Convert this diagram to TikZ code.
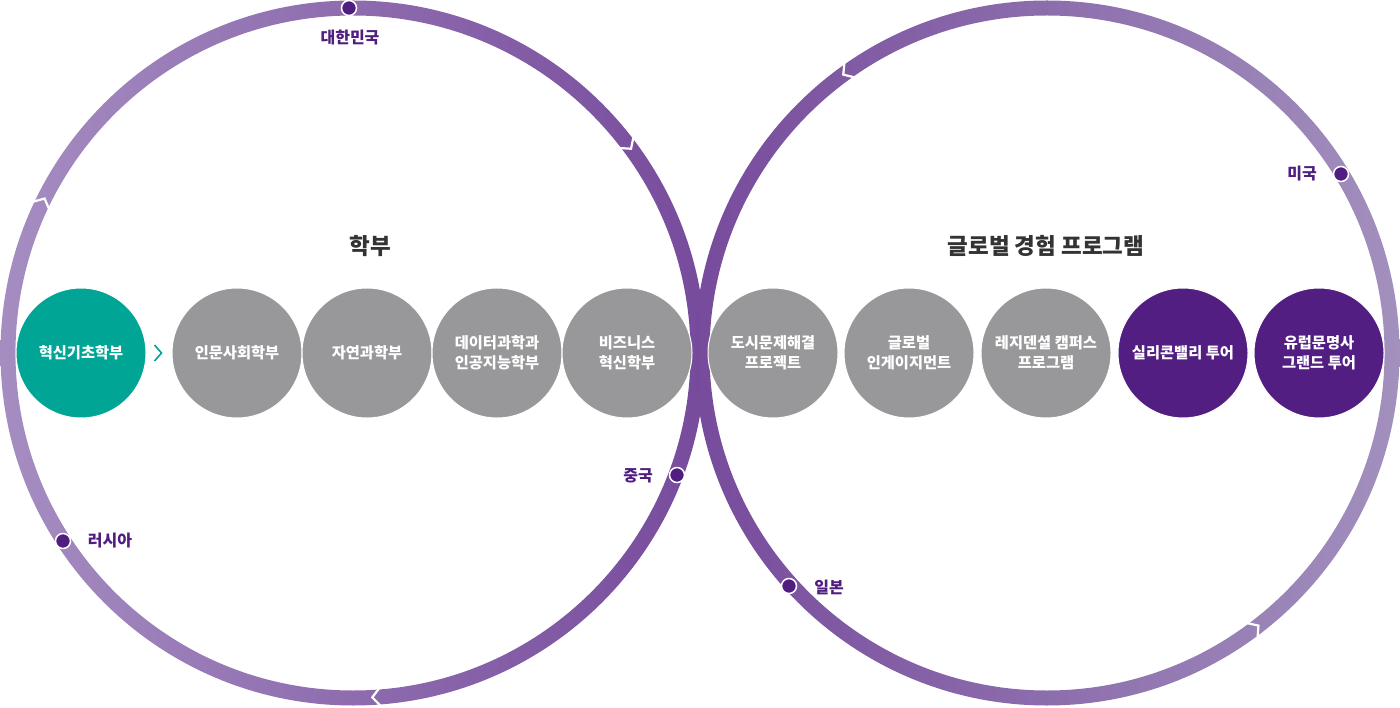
\documentclass[tikz,border=0pt]{standalone}
\usepackage{fontspec}
\setmainfont{Noto Sans CJK KR}
\usetikzlibrary{calc}
\definecolor{ringlight}{HTML}{A58DC1}
\definecolor{ringdark}{HTML}{774B9C}
\definecolor{ringlightR}{HTML}{A290BD}
\definecolor{dotpurple}{HTML}{4F1E80}
\definecolor{tealc}{HTML}{00A595}
\definecolor{grayc}{HTML}{98989A}
\definecolor{deepc}{HTML}{521E82}
\definecolor{titlec}{HTML}{333333}
\newcommand\chevmark[3]{%
  \draw[white, line width=2.2pt, line join=miter]
    ($(#1)+(#2:354)$) -- ($(#1)+(#2+#3*1.3:345)$) -- ($(#1)+(#2:336)$);}
\begin{document}
\begin{tikzpicture}[x=1pt,y=-1pt,
  bub/.style={circle, minimum size=130pt, inner sep=0pt, draw=white, line width=1pt,
    text=white, align=center, font=\bfseries\fontsize{15.3}{20}\selectfont},
  dotm/.style={circle, fill=dotpurple, draw=white, line width=1.5pt, minimum size=15pt, inner sep=0pt},
  place/.style={text=dotpurple, font=\bfseries\fontsize{16}{18}\selectfont, inner sep=0pt},
  ttl/.style={text=titlec, font=\bfseries\fontsize{22.5}{26}\selectfont, inner sep=0pt}]
\useasboundingbox[fill=white] (0,0) rectangle (1400,708);
\coordinate (L) at (353,353);
\coordinate (R) at (1047,353);
% rings
\path[even odd rule, left color=ringlight, right color=ringdark]
  (L) circle (352.5pt) (L) circle (337.5pt);
\path[even odd rule, left color=ringdark, right color=ringlightR]
  (R) circle (352.5pt) (R) circle (337.5pt);
% direction marks
\chevmark{L}{-37.6}{1}
\chevmark{L}{205.3}{1}
\chevmark{L}{85.5}{1}
\chevmark{R}{235.1}{-1}
\chevmark{R}{53.5}{-1}
% titles
\node[ttl] (t1) at (370,246) {학부};
\node[ttl] (t2) at (1046,246) {글로벌 경험 프로그램};
% bubbles
\node[bub, fill=tealc] (b1) at (81,353) {혁신기초학부};
\node[bub, fill=grayc] (b2) at (237,353) {인문사회학부};
\node[bub, fill=grayc] (b3) at (367,353) {자연과학부};
\node[bub, fill=grayc] (b4) at (497,353) {데이터과학과\\인공지능학부};
\node[bub, fill=grayc] (b5) at (627,353) {비즈니스\\혁신학부};
\node[bub, fill=grayc] (g1) at (773,353) {도시문제해결\\프로젝트};
\node[bub, fill=grayc] (g2) at (909,353) {글로벌\\인게이지먼트};
\node[bub, fill=grayc] (g3) at (1046,353) {레지덴셜 캠퍼스\\프로그램};
\node[bub, fill=deepc] (g4) at (1183,353) {실리콘밸리 투어};
\node[bub, fill=deepc] (g5) at (1319,353) {유럽문명사\\그랜드 투어};
% teal chevron
\draw[tealc, line width=1.6pt] ($(b1.east)+(8,-8)$) -- ($(b1.east)+(15,0)$) -- ($(b1.east)+(8,8)$);
% places
\node[dotm] (d1) at (349,8) {};
\node[place] (p1) at (350,38) {대한민국};
\node[dotm] (d2) at (63,541) {};
\node[place] (p2) at (110,541) {러시아};
\node[dotm] (d3) at (677,475) {};
\node[place] (p3) at (638,476) {중국};
\node[dotm] (d4) at (789,586) {};
\node[place] (p4) at (829,587) {일본};
\node[dotm] (d5) at (1341,174) {};
\node[place] (p5) at (1302,174) {미국};
\end{tikzpicture}
\end{document}
